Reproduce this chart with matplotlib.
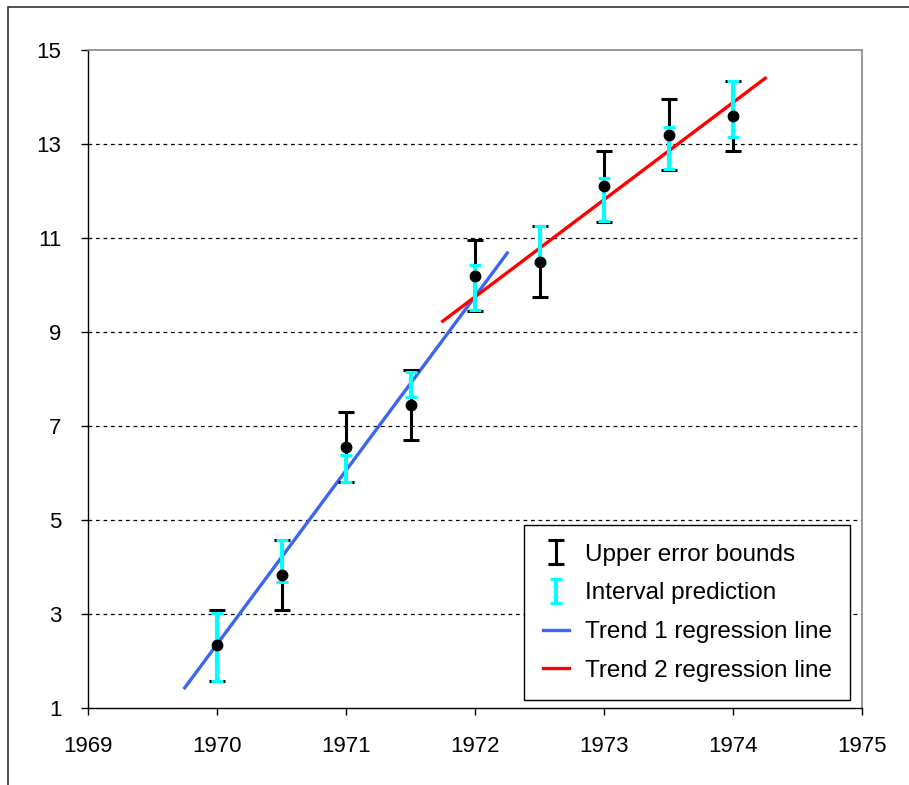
import matplotlib.pyplot as plt
from matplotlib.patches import Rectangle

plt.rcParams['font.family'] = ['Liberation Sans', 'DejaVu Sans']

# observations
years = [1970.0, 1970.5, 1971.0, 1971.5, 1972.0, 1972.5, 1973.0, 1973.5, 1974.0]
values = [2.33, 3.83, 6.55, 7.45, 10.2, 10.5, 12.1, 13.2, 13.6]
err_half = [0.75, 0.75, 0.75, 0.75, 0.75, 0.75, 0.75, 0.75, 0.75]

# interval prediction bounds
pred_lo = [1.58, 3.68, 5.80, 7.62, 9.47, 10.47, 11.36, 12.47, 13.15]
pred_hi = [3.02, 4.57, 6.38, 8.15, 10.43, 11.25, 12.28, 13.36, 14.35]

# regression line end points
trend1_x = [1969.75, 1972.25]
trend1_y = [1.43, 10.68]
trend2_x = [1971.75, 1974.25]
trend2_y = [9.23, 14.40]

xticks = [1969, 1970, 1971, 1972, 1973, 1974, 1975]
yticks = [1, 3, 5, 7, 9, 11, 13, 15]

fig = plt.figure(figsize=(9.09, 7.85), dpi=100)
ax = fig.add_axes([88 / 909, 77 / 785, 774 / 909, 658 / 785])

# outer frame of the chart area
fig.patches.append(Rectangle((8 / 909, -0.1), 1.2, 1.0 - 7 / 785 + 0.1,
                             transform=fig.transFigure, fill=False,
                             edgecolor='#333333', linewidth=1.2))

for y in yticks[1:-1]:
    ax.axhline(y, color='black', linestyle=(0, (3, 3)), linewidth=0.9, zorder=1)

ax.plot(trend1_x, trend1_y, color='#3a66f0', linewidth=2.4, zorder=2,
        label='Trend 1 regression line')
ax.plot(trend2_x, trend2_y, color='#ff0000', linewidth=2.4, zorder=2,
        label='Trend 2 regression line')

eb1 = ax.errorbar(years, values, yerr=err_half, fmt='none', ecolor='black',
                  elinewidth=2.2, capsize=5.5, capthick=2.2, zorder=3,
                  label='Upper error bounds')

pred_mid = [(lo + hi) / 2 for lo, hi in zip(pred_lo, pred_hi)]
pred_half = [(hi - lo) / 2 for lo, hi in zip(pred_lo, pred_hi)]
eb2 = ax.errorbar(years, pred_mid, yerr=pred_half, fmt='none', ecolor='#00ffff',
                  elinewidth=3.0, capsize=4, capthick=2.2, zorder=4,
                  label='Interval prediction')

ax.plot(years, values, 'o', color='black', markersize=7.5, zorder=5)

ax.set_xlim(1969, 1975)
ax.set_ylim(1, 15)
ax.set_xticks(xticks)
ax.set_yticks(yticks)
ax.tick_params(axis='both', direction='out', length=5, width=1, labelsize=16,
               colors='black')
ax.tick_params(axis='x', pad=15)
ax.tick_params(axis='y', pad=14)

for side in ['top', 'right']:
    ax.spines[side].set_color('#888888')
    ax.spines[side].set_linewidth(1.2)
for side in ['left', 'bottom']:
    ax.spines[side].set_color('black')
    ax.spines[side].set_linewidth(1.0)

h, l = ax.get_legend_handles_labels()
order = ['Upper error bounds', 'Interval prediction',
         'Trend 1 regression line', 'Trend 2 regression line']
handles = [h[l.index(name)] for name in order]
leg = ax.legend(handles, order, loc='lower right', bbox_to_anchor=(0.985, 0.012),
                fontsize=17.5, frameon=True, fancybox=False, framealpha=1,
                edgecolor='black', handlelength=1.1, handletextpad=0.65,
                labelspacing=0.69, borderpad=0.75, borderaxespad=0)
leg.get_frame().set_linewidth(1.0)

fig.savefig('out.png', dpi=100)
